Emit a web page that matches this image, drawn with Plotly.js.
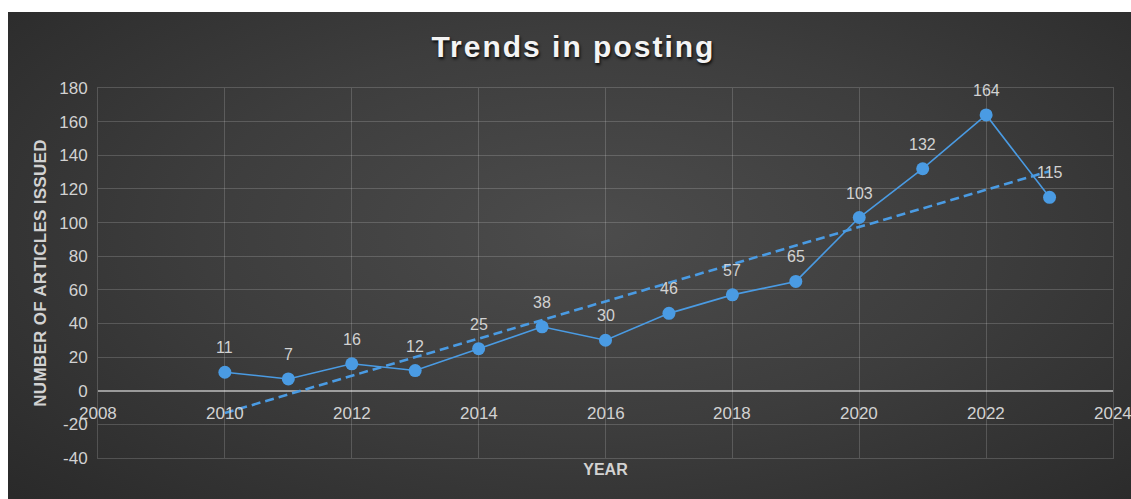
<!DOCTYPE html>
<html>
<head>
<meta charset="utf-8">
<script src="https://cdn.plot.ly/plotly-3.0.1.min.js"></script>
<style>
  html, body { margin: 0; padding: 0; background: #ffffff; }
  #wrap { position: relative; width: 1131px; height: 499px; overflow: hidden; }
  #bg { position: absolute; left: 8px; top: 12px; right: 0; bottom: 0;
        background: radial-gradient(ellipse 70% 80% at 52% 45%, #4c4c4c 0%, #3d3d3d 50%, #2a2a2a 100%); }
  #chart { position: absolute; left: 0; top: 0; width: 1131px; height: 499px; }
  #chart .gtitle { letter-spacing: 2px; }
  #chart .ytitle { letter-spacing: 0.3px; }
</style>
</head>
<body>
<div id="wrap"><div id="bg"></div><div id="chart"></div></div>
<script>
const years = [2010, 2011, 2012, 2013, 2014, 2015, 2016, 2017, 2018, 2019, 2020, 2021, 2022, 2023];
const articles = [11, 7, 16, 12, 25, 38, 30, 46, 57, 65, 103, 132, 164, 115];
const xTicks = [2008, 2010, 2012, 2014, 2016, 2018, 2020, 2022, 2024];
const yTicks = [-40, -20, 0, 20, 40, 60, 80, 100, 120, 140, 160, 180];
const yTickText = ['-40', '-20', '0', '20', '40', '60', '80', '100', '120', '140', '160', '180'];
const chartTitle = 'Trends in posting';
const xTitle = 'YEAR';
const yTitle = 'NUMBER OF ARTICLES ISSUED';

// Linear trendline (least squares fit of the data, as in the source chart)
function linearFit(xs, ys) {
  const n = xs.length;
  const mx = xs.reduce((a, b) => a + b, 0) / n;
  const my = ys.reduce((a, b) => a + b, 0) / n;
  let sxy = 0, sxx = 0;
  for (let i = 0; i < n; i++) { sxy += (xs[i] - mx) * (ys[i] - my); sxx += (xs[i] - mx) ** 2; }
  const slope = sxy / sxx;
  return x => my + slope * (x - mx);
}
const fit = linearFit(years, articles);
const trendX = [years[0], years[years.length - 1]];
const trendY = trendX.map(fit);

const blue = '#4a9be3';
const labelColor = '#d2d2d2';
const fontFam = '"Liberation Sans", Arial, Helvetica, sans-serif';

const traces = [
  { x: trendX, y: trendY, mode: 'lines', line: { color: blue, width: 2.6, dash: '9px,5px' }, hoverinfo: 'skip' },
  { x: years, y: articles, mode: 'lines+markers', line: { color: blue, width: 1.6 },
    marker: { color: blue, size: 13 } }
];

const annotations = [];
years.forEach((yr, i) => {
  annotations.push({ x: yr, y: articles[i], xref: 'x', yref: 'y', text: String(articles[i]),
    showarrow: false, yanchor: 'bottom', yshift: 14, font: { family: fontFam, size: 16, color: labelColor } });
});
xTicks.forEach(t => {
  annotations.push({ x: t, y: 0, xref: 'x', yref: 'y', text: String(t), showarrow: false,
    yanchor: 'top', yshift: -11, font: { family: fontFam, size: 17, color: labelColor } });
});

const gridColor = 'rgba(255,255,255,0.17)';
const layout = {
  width: 1131, height: 499,
  paper_bgcolor: 'rgba(0,0,0,0)', plot_bgcolor: 'rgba(0,0,0,0)',
  margin: { l: 98, r: 18, t: 88, b: 41 },
  showlegend: false,
  font: { family: fontFam, color: labelColor },
  title: { text: '<b>' + chartTitle + '</b>', x: 0.507, xanchor: 'center', y: 1 - 46 / 499, yanchor: 'middle', yref: 'container',
    font: { family: fontFam, size: 30, color: '#f4f4f4', shadow: '1px 2px 3px rgba(0,0,0,0.85)' } },
  xaxis: { range: [2008, 2024], tickvals: xTicks, showticklabels: false, showgrid: true, gridcolor: gridColor,
    gridwidth: 1, zeroline: false, showline: true, linecolor: gridColor, mirror: true, ticks: '',
    title: { text: '<b>' + xTitle + '</b>', standoff: 5, font: { family: fontFam, size: 16, color: labelColor } } },
  yaxis: { range: [-40, 180], tickvals: yTicks, ticktext: yTickText, showgrid: true, gridcolor: gridColor, gridwidth: 1,
    zeroline: true, zerolinecolor: 'rgba(255,255,255,0.5)', zerolinewidth: 2, showline: true, linecolor: gridColor,
    mirror: true, ticks: '', ticklabelstandoff: 6, tickfont: { family: fontFam, size: 17, color: labelColor },
    title: { text: '<b>' + yTitle + '</b>', standoff: 8, font: { family: fontFam, size: 17, color: labelColor } } },
  annotations: annotations
};

Plotly.newPlot('chart', traces, layout, { displayModeBar: false, staticPlot: true });
</script>
</body>
</html>
